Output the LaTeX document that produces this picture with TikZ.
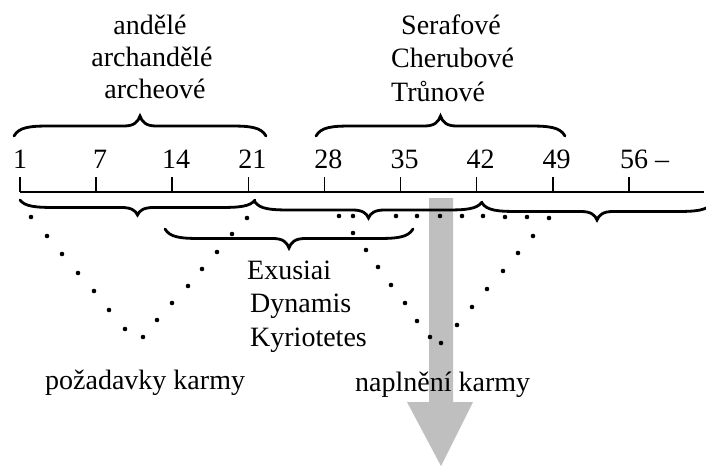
\documentclass[tikz,border=0pt]{standalone}
\usepackage{fontspec}
\setmainfont{Liberation Serif}
\usetikzlibrary{positioning}
\colorlet{arrowc}{black!25}

% curly brace: left x, right x, end y, tip offset
\newcommand{\curly}[4]{%
  \pgfmathsetmacro{\mx}{(#1+#2)/2}
  \draw[brc] (#1,#3) .. controls ({#1+5},{#3+0.45*(#4)}) and ({#1+16},{#3+0.5*(#4)}) .. ({#1+36},{#3+0.5*(#4)})
    -- ({\mx-16},{#3+0.5*(#4)})
    .. controls ({\mx-6},{#3+0.5*(#4)}) and ({\mx-2},{#3+0.7*(#4)}) .. ({\mx},{#3+(#4)})
    .. controls ({\mx+2},{#3+0.7*(#4)}) and ({\mx+6},{#3+0.5*(#4)}) .. ({\mx+16},{#3+0.5*(#4)})
    -- ({#2-36},{#3+0.5*(#4)})
    .. controls ({#2-16},{#3+0.5*(#4)}) and ({#2-5},{#3+0.45*(#4)}) .. (#2,#3);
}

\begin{document}
\begin{tikzpicture}[x=1pt,y=-1pt,
  lbl/.style={font=\fontsize{28}{33}\selectfont, inner sep=0pt},
  brc/.style={line width=2.8pt, line cap=round},
  axisline/.style={line width=1.6pt}]
\useasboundingbox (0,0) rectangle (706,468);

% arrow (behind everything)
\fill[arrowc] (429,198) -- (453,198) -- (453,402) -- (473,402) -- (441,466) -- (407,402) -- (429,402) -- cycle;

% axis with ticks and numbers
\draw[axisline] (20,192) -- (704,192);
\foreach \n [count=\i from 0] in {1,7,14,21,28,35,42,49} {
  \draw[axisline] ({20+76.1*\i},177) -- ({20+76.1*\i},192);
  \node[lbl, anchor=base] (n\n) at ({20+76.1*\i+(\i>0)*4},168) {\n};
}
\draw[axisline] (629,177) -- (629,192);
\node[lbl, anchor=base west] (n56) at (620,168) {56 --};

% braces above
\curly{14}{266}{136}{-20}
\curly{316}{565}{136}{-20}
% braces below
\curly{20}{255}{200}{15}
\curly{255}{482}{202}{16}
\curly{482}{712}{203}{17}
\curly{165}{413}{229}{19}

% dots
\foreach \p in {(31,217),(47,236),(62,254),(78,273),(94,291),(109,310),(125,329),(143,337),
                (157,320),(172,303),(188,286),(202,269),(217,252),(232,234),(247,218)}
  \fill \p circle (2.3pt);
\foreach \p in {(339,216),(353,233),(366,250),(378,267),(391,285),(405,303),(417,321),(430,337),(441,343),
                (457,325),(472,307),(487,289),(503,271),(518,253),(533,236),(549,218)}
  \fill \p circle (2.3pt);
\foreach \p in {(353,216),(396,216),(417,216),(440,216),(462,216),(483,216),(505,217),(527,217)}
  \fill \p circle (2.3pt);

% labels
\node[lbl, anchor=base] (angel) at (150,35) {andělé};
\node[lbl, anchor=base] (archangel) at (152,67) {archandělé};
\node[lbl, anchor=base] (archai) at (155,99) {archeové};

\node[lbl, anchor=base west] (seraph) at (401,35) {Serafové};
\node[lbl, anchor=base west] (cherub) at (391,68) {Cherubové};
\node[lbl, anchor=base west] (throne) at (391,102) {Trůnové};

\node[lbl, anchor=base west] (exus) at (247,279) {Exusiai};
\node[lbl, anchor=base west] (dyn) at (250,312) {Dynamis};
\node[lbl, anchor=base west] (kyr) at (250,346) {Kyriotetes};

\node[lbl, anchor=base west] (demand) at (45,389) {požadavky karmy};
\node[lbl, anchor=base west] (fulfil) at (355,391) {naplnění karmy};
\end{tikzpicture}
\end{document}
